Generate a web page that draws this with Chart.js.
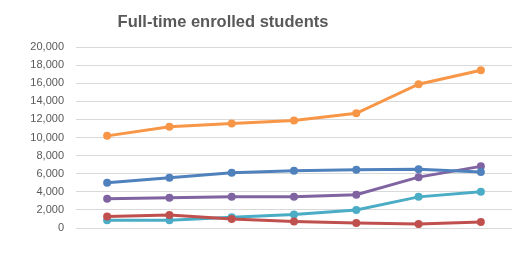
<!DOCTYPE html>
<html>
<head>
<meta charset="utf-8">
<script src="https://cdn.jsdelivr.net/npm/chart.js@4/dist/chart.umd.min.js"></script>
<style>
html,body{margin:0;padding:0;background:#fff;}
#wrap{position:relative;width:525px;height:258px;}
#title{position:absolute;left:0;top:12px;width:446px;text-align:center;font-family:"Liberation Sans",Arial,sans-serif;font-weight:bold;font-size:16.5px;color:#595959;}
canvas{position:absolute;left:0;top:0;}
</style>
</head>
<body>
<div id="wrap">
<canvas id="c" width="525" height="258"></canvas>
<div id="title">Full-time enrolled students</div>
</div>
<script>
const categories = ["1","2","3","4","5","6","7"];
const yTicks = [0,2000,4000,6000,8000,10000,12000,14000,16000,18000,20000];
const blueSeries   = [5000, 5560, 6110, 6330, 6440, 6480, 6180];
const redSeries    = [1260, 1440, 1000, 730, 550, 440, 670];
const purpleSeries = [3220, 3330, 3440, 3440, 3670, 5620, 6810];
const tealSeries   = [850, 850, 1180, 1480, 2000, 3440, 4000];
const orangeSeries = [10180, 11180, 11560, 11890, 12670, 15890, 17440];

function ds(label, data, color){
  return {label, data, borderColor: color, backgroundColor: color,
    borderWidth: 3, pointRadius: 4, pointHoverRadius: 4, pointBorderWidth: 0,
    tension: 0, fill: false};
}

new Chart(document.getElementById('c'), {
  type: 'line',
  data: {
    labels: categories,
    datasets: [
      ds('Series 1', blueSeries, '#4F81BD'),
      ds('Series 2', redSeries, '#C0504D'),
      ds('Series 3', purpleSeries, '#8064A2'),
      ds('Series 4', tealSeries, '#4BACC6'),
      ds('Series 5', orangeSeries, '#F79646')
    ]
  },
  options: {
    responsive: false,
    animation: false,
    events: [],
    layout: {padding: {top: 47, right: 13, bottom: 22, left: 0}},
    plugins: {legend: {display: false}, title: {display: false}, tooltip: {enabled: false}},
    scales: {
      x: {
        offset: true,
        grid: {display: false},
        border: {display: false},
        ticks: {display: false}
      },
      y: {
        min: 0, max: 20000,
        afterBuildTicks: (s) => { s.ticks = yTicks.map(v => ({value: v})); },
        afterFit: (s) => { s.width = 76; },
        grid: {color: '#d9d9d9', lineWidth: 1, drawTicks: false},
        border: {display: false},
        ticks: {
          padding: 12,
          color: '#595959',
          font: {family: '"Liberation Sans", Arial, sans-serif', size: 11},
          callback: (v) => v.toLocaleString('en-US')
        }
      }
    }
  }
});
</script>
</body>
</html>
